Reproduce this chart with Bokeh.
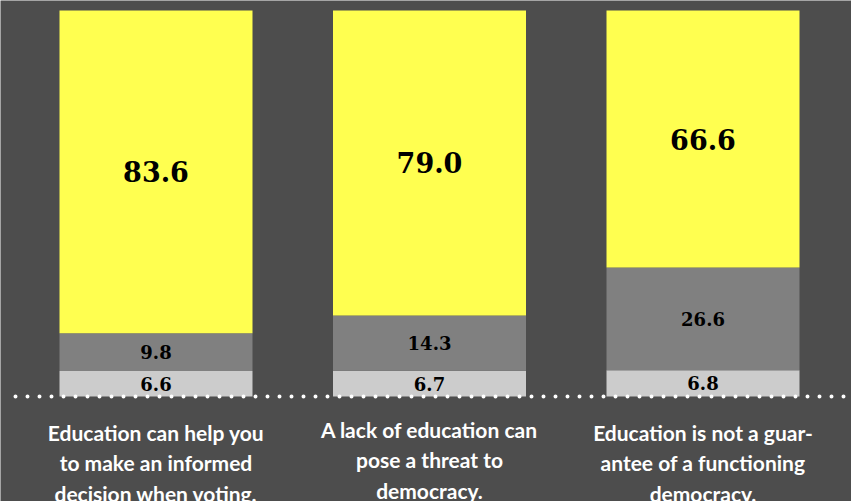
from bokeh.plotting import figure
from bokeh.models import ColumnDataSource, Range1d
from bokeh.core.properties import value
from bokeh.embed import file_html
from bokeh.resources import INLINE

categories = [
    "Education can help you\nto make an informed\ndecision when voting.",
    "A lack of education can\npose a threat to\ndemocracy.",
    "Education is not a guar-\nantee of a functioning\ndemocracy.",
]
bottom_vals = [6.6, 6.7, 6.8]
middle_vals = [9.8, 14.3, 26.6]
top_vals = [83.6, 79.0, 66.6]

BG = "#4d4d4d"
C_BOTTOM = "#cccccc"
C_MIDDLE = "#808080"
C_TOP = "#ffff50"

x = list(range(len(categories)))
b0 = [0] * 3
b1 = bottom_vals
b2 = [a + b for a, b in zip(bottom_vals, middle_vals)]
b3 = [a + b for a, b in zip(b2, top_vals)]

src = ColumnDataSource(dict(
    x=x, b0=b0, b1=b1, b2=b2, b3=b3,
    m1=[(a + b) / 2 for a, b in zip(b0, b1)],
    m2=[(a + b) / 2 for a, b in zip(b1, b2)],
    m3=[(a + b) / 2 for a, b in zip(b2, b3)],
    t1=[f"{v:.1f}" for v in bottom_vals],
    t2=[f"{v:.1f}" for v in middle_vals],
    t3=[f"{v:.1f}" for v in top_vals],
    cat=categories,
    ly=[-17.1, -16.4, -17.1],
))

W, H = 851, 501
px_per_x = 273.5
x0 = -155.5 / px_per_x
x1 = x0 + W / px_per_x
px_per_y = 3.86
y1 = 100 + 10 / px_per_y
y0 = -(H - 396) / px_per_y

p = figure(width=W, height=H, output_backend="svg", toolbar_location=None,
           x_range=Range1d(x0, x1), y_range=Range1d(y0, y1),
           min_border=0, background_fill_color=BG, border_fill_color=BG,
           outline_line_color=None)
p.axis.visible = False
p.grid.visible = False

bw = 193 / px_per_x
p.vbar(x="x", width=bw, bottom="b0", top="b1", source=src, fill_color=C_BOTTOM, line_color=None)
p.vbar(x="x", width=bw, bottom="b1", top="b2", source=src, fill_color=C_MIDDLE, line_color=None)
p.vbar(x="x", width=bw, bottom="b2", top="b3", source=src, fill_color=C_TOP, line_color=None)

serif = value("DejaVu Serif")
p.text(x="x", y="m1", text="t1", source=src, text_font=serif, text_font_style="bold",
       text_font_size="18px", text_align="center", text_baseline="middle", text_color="black")
p.text(x="x", y="m2", text="t2", source=src, text_font=serif, text_font_style="bold",
       text_font_size="18px", text_align="center", text_baseline="middle", text_color="black")
p.text(x="x", y="m3", text="t3", source=src, text_font=serif, text_font_style="bold",
       text_font_size="27px", text_align="center", text_baseline="middle", text_color="black")

# dotted baseline
p.line(x=[x0 + 15 / px_per_x, x0 + 845 / px_per_x], y=[0, 0], line_color="white",
       line_width=4, line_dash="0 12", line_cap="round")

p.text(x="x", y="ly", text="cat", source=src, text_font=value("Lato"), text_font_style="bold",
       text_font_size="21px", text_align="center", text_baseline="middle",
       text_color="white", text_line_height=1.22)

open("out.html", "w").write(file_html(p, INLINE))
